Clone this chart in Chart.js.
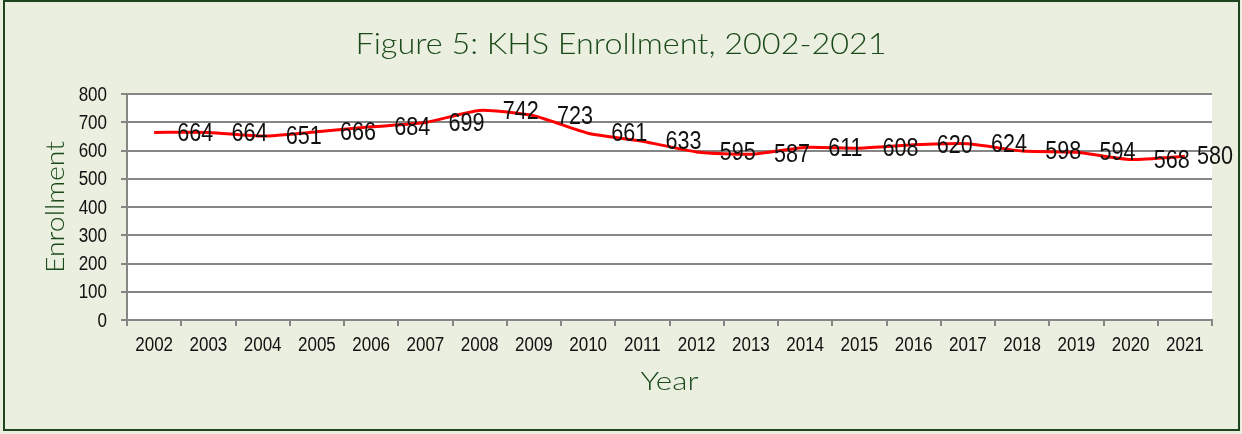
<!DOCTYPE html>
<html>
<head>
<meta charset="utf-8">
<script src="https://cdn.jsdelivr.net/npm/chart.js@4"></script>
<style>
  html, body { margin: 0; padding: 0; background: #ebefdf; }
  #wrap { width: 1242px; height: 434px; }
</style>
</head>
<body>
<div id="wrap"><canvas id="enrollChart" width="1242" height="434"></canvas></div>
<script>
// Enrollment figures
const years = ['2002', '2003', '2004', '2005', '2006', '2007', '2008', '2009', '2010', '2011',
               '2012', '2013', '2014', '2015', '2016', '2017', '2018', '2019', '2020', '2021'];
const enrollment = [664, 664, 651, 666, 684, 699, 742, 723, 661, 633,
                    595, 587, 611, 608, 620, 624, 598, 594, 568, 580];
const yTicks = [0, 100, 200, 300, 400, 500, 600, 700, 800];

const titleText = 'Figure 5: KHS Enrollment, 2002-2021';
const xTitle = 'Year';
const yTitle = 'Enrollment';

const green = '#1a4a1a';
const gothic = '"Century Gothic", "URW Gothic", "URW Gothic L", Lato, sans-serif';
const arial = '"Liberation Sans", Arial, sans-serif';

// draw text squeezed/stretched to a given width
function fitText(ctx, text, x, y, targetW, font) {
  ctx.font = font;
  const w = ctx.measureText(text).width;
  ctx.save();
  ctx.translate(x, y);
  ctx.scale(targetW / w, 1);
  ctx.textAlign = 'center';
  ctx.textBaseline = 'middle';
  ctx.fillText(text, 0, 0);
  ctx.restore();
}

// narrow-looking text: Arial squeezed horizontally
function narrowText(ctx, text, x, y, align, sx) {
  ctx.save();
  ctx.translate(x, y);
  ctx.scale(sx, 1);
  ctx.textAlign = align;
  ctx.textBaseline = 'middle';
  ctx.fillText(text, 0, 0);
  ctx.restore();
}

const decor = {
  id: 'decor',
  beforeDraw(chart) {
    const { ctx, width, height, chartArea: a } = chart;
    ctx.save();
    ctx.fillStyle = '#ebefdf';
    ctx.fillRect(0, 0, width, height);
    ctx.fillStyle = '#ffffff';
    ctx.fillRect(a.left, a.top, a.right - a.left, a.bottom - a.top);
    ctx.strokeStyle = '#1e461e';
    ctx.lineWidth = 2;
    ctx.strokeRect(4, 1, 1235, 429);
    ctx.restore();
  },
  afterDatasetsDraw(chart) {
    const { ctx } = chart;
    const meta = chart.getDatasetMeta(0);
    ctx.save();
    ctx.font = '26px ' + arial;
    ctx.fillStyle = '#111';
    meta.data.forEach((pt, i) => {
      const txt = String(enrollment[i]);
      const w = ctx.measureText(txt).width * 0.83;
      const x = Math.min(pt.x + 23, 1233 - w);
      narrowText(ctx, txt, x, pt.y + 1, 'left', 0.83);
    });
    ctx.restore();
  },
  afterDraw(chart) {
    const { ctx, chartArea: a, scales } = chart;
    ctx.save();
    // tick labels
    ctx.fillStyle = '#111';
    ctx.font = '20px ' + arial;
    yTicks.forEach(v => {
      narrowText(ctx, String(v), 107, scales.y.getPixelForValue(v) + 1, 'right', 0.85);
    });
    years.forEach((yr, i) => {
      narrowText(ctx, yr, scales.x.getPixelForValue(i), 345, 'center', 0.85);
    });
    // titles
    ctx.fillStyle = green;
    fitText(ctx, titleText, 621, 44, 531, '300 30px ' + gothic);
    fitText(ctx, xTitle, (a.left + a.right) / 2, 382, 58, '300 26px ' + gothic);
    ctx.translate(56, 207);
    ctx.rotate(-Math.PI / 2);
    fitText(ctx, yTitle, 0, 0, 132, '300 26px ' + gothic);
    ctx.restore();
  }
};

new Chart(document.getElementById('enrollChart'), {
  type: 'line',
  data: {
    labels: years,
    datasets: [{
      data: enrollment,
      borderColor: '#ff0000',
      borderWidth: 3,
      pointRadius: 0,
      tension: 0.2,
      fill: false
    }]
  },
  options: {
    responsive: false,
    animation: false,
    events: [],
    layout: { padding: { left: 0, top: 94, right: 30, bottom: 54 } },
    plugins: { legend: { display: false }, title: { display: false }, tooltip: { enabled: false } },
    scales: {
      x: {
        offset: true,
        grid: { offset: true, drawOnChartArea: false, drawTicks: true, tickLength: 6, color: '#868686', lineWidth: 2 },
        border: { color: '#868686', width: 2 },
        ticks: { display: false, autoSkip: false },
        afterFit(scale) { scale.height = 60; }
      },
      y: {
        min: yTicks[0],
        max: yTicks[yTicks.length - 1],
        grid: { color: '#868686', lineWidth: 2, tickLength: 6 },
        border: { color: '#868686', width: 2 },
        ticks: { display: false, stepSize: 100 },
        afterFit(scale) { scale.width = 127; }
      }
    }
  },
  plugins: [decor]
});
</script>
</body>
</html>
